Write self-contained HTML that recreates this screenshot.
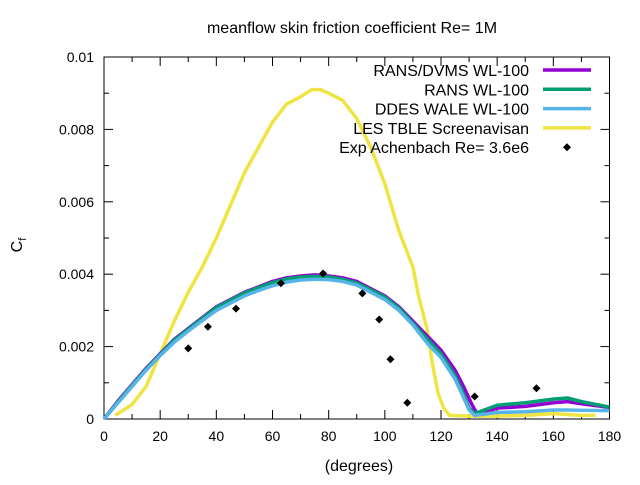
<!DOCTYPE html>
<html><head><meta charset="utf-8"><style>
body{margin:0;background:#fff}
svg text{font-family:"Liberation Sans",sans-serif;font-size:14px;fill:#000}
svg text.big{font-size:16px}
</style></head><body>
<svg width="640" height="480">
<rect width="640" height="480" fill="#fff"/>
<g id="axes"></g><g id="series"></g><g id="legend"></g>
<text class="big" x="352" y="33" text-anchor="middle">meanflow skin friction coefficient Re= 1M</text>
<text class="big" x="359" y="471" text-anchor="middle">(degrees)</text>
<text class="big" transform="translate(22,245) rotate(-90)" text-anchor="middle">C<tspan font-size="11" dy="4">f</tspan></text>
</svg>
<script>
const xTicks=[0,20,40,60,80,100,120,140,160,180];
const yTicks=[0,0.002,0.004,0.006,0.008,0.01];
const yTickLabels=["0","0.002","0.004","0.006","0.008","0.01"];
const rdX=[0,5,10,15,20,25,30,35,40,45,50,55,60,65,70,75,80,85,90,95,100,105,110,115,120,125,128,131,133,140,150,160,165,170,180];
const rdY=[0,0.0005,0.00095,0.0014,0.0018,0.0022,0.0025,0.0028,0.0031,0.0033,0.0035,0.00365,0.0038,0.0039,0.00395,0.00398,0.00395,0.0039,0.0038,0.0036,0.0034,0.0031,0.0027,0.0023,0.0019,0.00135,0.0009,0.0004,0.00012,0.0003,0.00035,0.00045,0.00048,0.00042,0.00032];
const rwX=[0,5,10,15,20,25,30,35,40,45,50,55,60,65,70,75,80,85,90,95,100,105,110,115,120,125,128,130,132,140,150,160,165,170,180];
const rwY=[0,0.00048,0.00093,0.00138,0.00178,0.00218,0.00248,0.00278,0.00308,0.00328,0.00348,0.00363,0.00377,0.00387,0.00392,0.00394,0.00392,0.00386,0.00376,0.00357,0.00337,0.00307,0.00265,0.00222,0.00180,0.00120,0.0007,0.0003,0.00015,0.00038,0.00045,0.00055,0.00058,0.00048,0.00033];
const ddX=[0,5,10,15,20,25,30,35,40,45,50,55,60,65,70,75,80,85,90,95,100,105,110,115,120,125,128,130,132,140,150,160,165,170,180];
const ddY=[0,0.00045,0.0009,0.00135,0.00175,0.00212,0.00243,0.00272,0.003,0.0032,0.0034,0.00355,0.00368,0.00378,0.00384,0.00386,0.00385,0.0038,0.0037,0.0035,0.0033,0.003,0.0026,0.0021,0.0017,0.0011,0.0006,0.00025,0.0001,0.00018,0.0002,0.00025,0.00025,0.00024,0.00023];
const lesX=[4,10,15,20,25,30,35,40,45,50,55,60,65,70,74,77,80,85,90,95,100,105,110,112,115,117,119,121,123,130,140,150,160,170,175];
const lesY=[0.0001,0.0004,0.0009,0.0018,0.0027,0.0035,0.0042,0.005,0.0059,0.0068,0.0075,0.0082,0.0087,0.0089,0.0091,0.0091,0.0090,0.0088,0.0083,0.0075,0.0065,0.0052,0.0042,0.0034,0.0025,0.0015,0.0007,0.0003,0.0001,0.00008,0.00008,0.0001,0.00015,0.0001,0.0001];
const expX=[30,37,47,63,78,92,98,102,108,132,154];
const expY=[0.00195,0.00255,0.00305,0.00375,0.00402,0.00347,0.00275,0.00165,0.00045,0.00062,0.00085];
const X0=104,X1=609.5,Y0=419,Y1=57;
const sx=v=>X0+(v/180)*(X1-X0), sy=v=>Y0-(v/0.01)*(Y0-Y1);
const NS="http://www.w3.org/2000/svg";
function mk(t,p,a){const e=document.createElementNS(NS,t);for(const k in a)e.setAttribute(k,a[k]);p.appendChild(e);return e;}
const ax=document.getElementById('axes');
const frame=mk('rect',ax,{x:X0,y:Y1,width:X1-X0,height:Y0-Y1,fill:'none',stroke:'#000','stroke-width':1});


for(let v=0;v<=180;v+=10){const x=sx(v),L=v%20==0?9:5;
 mk('line',ax,{x1:x,x2:x,y1:Y0,y2:Y0-L,stroke:'#000'});mk('line',ax,{x1:x,x2:x,y1:Y1,y2:Y1+L,stroke:'#000'});}
xTicks.forEach(v=>{const t=mk('text',ax,{x:sx(v),y:Y0+22,'text-anchor':'middle'});t.textContent=v;
 
 });
for(let i=0;i<=10;i++){const y=sy(i*0.001),L=i%2==0?9:5;
 mk('line',ax,{x1:X0,x2:X0+L,y1:y,y2:y,stroke:'#000'});mk('line',ax,{x1:X1,x2:X1-L,y1:y,y2:y,stroke:'#000'});}
yTicks.forEach((v,i)=>{const t=mk('text',ax,{x:X0-10,y:sy(v)+5,'text-anchor':'end'});t.textContent=yTickLabels[i];
 
 });
const se=document.getElementById('series');
function line(xs,ys,c,name){const p=mk('polyline',se,{points:xs.map((x,i)=>sx(x)+','+sy(ys[i])).join(' '),fill:'none',stroke:c,'stroke-width':3.5,'stroke-linejoin':'round'});
 
 }
line(lesX,lesY,'#f0e442','les-line');
line(rdX,rdY,'#9400d3','rans-dvms-line');
line(rwX,rwY,'#009e73','rans-line');
line(ddX,ddY,'#56b4e9','ddes-line');
expX.forEach((x,i)=>{const cx=sx(x),cy=sy(expY[i]);
 const d=mk('polygon',se,{points:`${cx},${cy-4} ${cx+4},${cy} ${cx},${cy+4} ${cx-4},${cy}`,fill:'#000'});
 
 });
const lg=document.getElementById('legend');
const leg=[["RANS/DVMS WL-100","#9400d3"],["RANS WL-100","#009e73"],["DDES WALE WL-100","#56b4e9"],["LES TBLE Screenavisan","#f0e442"],["Exp Achenbach Re= 3.6e6",null]];
leg.forEach((l,i)=>{const y=70+i*19.3;
 const t=mk('text',lg,{x:529,y:y+6,'text-anchor':'end','class':'big'});t.textContent=l[0];
 
 
 if(l[1])mk('line',lg,{x1:543,x2:591,y1:y,y2:y,stroke:l[1],'stroke-width':3.5});
 else mk('polygon',lg,{points:`567,${y-4} 571,${y} 567,${y+4} 563,${y}`,fill:'#000'});});
</script>
</body></html>
